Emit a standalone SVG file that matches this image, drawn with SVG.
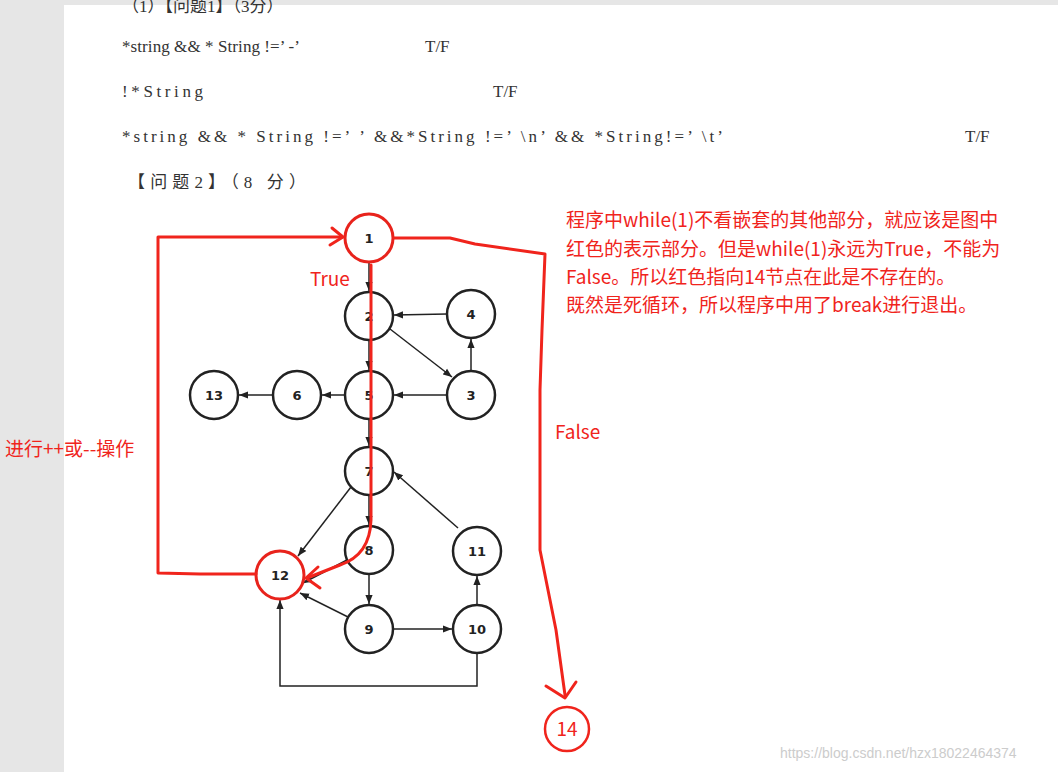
<svg xmlns="http://www.w3.org/2000/svg" width="1058" height="772" viewBox="0 0 1058 772">
<defs>
<marker id="ah" viewBox="0 0 10 10" refX="10" refY="5" markerWidth="6" markerHeight="6" orient="auto"><path d="M0,1 L10,5 L0,9 z" fill="#222"/></marker>
</defs>
<style>
.doc{font-family:"Liberation Serif","Noto Sans CJK SC",serif;font-size:17px;fill:#333}
.n circle{fill:#fff;stroke:#222;stroke-width:2.5}
.n text{font-family:"DejaVu Sans",sans-serif;font-weight:bold;font-size:13px;text-anchor:middle;fill:#222}
.r circle{stroke:#e8231c;stroke-width:3}
.e{stroke:#222;stroke-width:1.5;fill:none;marker-end:url(#ah)}
.red{stroke:#f0241c;stroke-width:3;fill:none;stroke-linecap:round;stroke-linejoin:round}
.rt{font-family:"Noto Sans CJK SC","Noto Sans",sans-serif;font-size:19px;fill:#f0241c}
</style>
<rect width="1058" height="772" fill="#fff"/>
<rect width="64" height="772" fill="#e6e6e6"/>
<rect width="1058" height="5" fill="#e6e6e6"/>
<text class="doc" x="122" y="12">（1）【问题1】（3分）</text>
<text class="doc" x="122" y="52" textLength="178" lengthAdjust="spacing">*string &amp;&amp; * String !=’ -’</text><text class="doc" x="425" y="52">T/F</text>
<text class="doc" x="122" y="97" textLength="81" lengthAdjust="spacing">!*String</text><text class="doc" x="493" y="97">T/F</text>
<text class="doc" x="122" y="142" textLength="601" lengthAdjust="spacing">*string &amp;&amp; * String !=’  ’ &amp;&amp;*String !=’ \n’ &amp;&amp; *String!=’ \t’</text><text class="doc" x="965" y="142">T/F</text>
<text class="doc" x="128" y="188" textLength="178" lengthAdjust="spacing">【问题2】（8 分）</text>
<g id="connectors">
<line class="e" x1="369" y1="262" x2="369" y2="291"/>
<line class="e" x1="447" y1="314" x2="394" y2="315"/>
<line class="e" x1="390" y1="329" x2="452" y2="377"/>
<line class="e" x1="471" y1="371" x2="471" y2="339"/>
<line class="e" x1="447" y1="395" x2="394" y2="395"/>
<line class="e" x1="345" y1="395" x2="322" y2="395"/>
<line class="e" x1="273" y1="395" x2="239" y2="395"/>
<line class="e" x1="369" y1="340" x2="369" y2="370"/>
<line class="e" x1="369" y1="419" x2="369" y2="446"/>
<line class="e" x1="369" y1="495" x2="369" y2="525"/>
<line class="e" x1="351" y1="487" x2="298" y2="556"/>
<line class="e" x1="347" y1="560" x2="303" y2="583"/>
<line class="e" x1="369" y1="575" x2="369" y2="604"/>
<line class="e" x1="348" y1="617" x2="300" y2="593"/>
<line class="e" x1="394" y1="629" x2="452" y2="629"/>
<line class="e" x1="477" y1="605" x2="477" y2="576"/>
<line class="e" x1="458" y1="528" x2="394" y2="472"/>
<polyline class="e" points="477,653 477,686 280,686 280,600"/>
<line x1="158" y1="237" x2="158" y2="270" stroke="#555" stroke-width="2"/>
</g>
<g id="n1" class="n r"><circle cx="369" cy="238" r="24"/><text x="369" y="243">1</text></g>
<g id="n2" class="n"><circle cx="369" cy="316" r="24"/><text x="369" y="321">2</text></g>
<g id="n4" class="n"><circle cx="471" cy="314" r="24"/><text x="471" y="319">4</text></g>
<g id="n5" class="n"><circle cx="369" cy="395" r="24"/><text x="369" y="400">5</text></g>
<g id="n3" class="n"><circle cx="471" cy="395" r="24"/><text x="471" y="400">3</text></g>
<g id="n6" class="n"><circle cx="297" cy="395" r="24"/><text x="297" y="400">6</text></g>
<g id="n13" class="n"><circle cx="214" cy="395" r="24"/><text x="214" y="400">13</text></g>
<g id="n7" class="n"><circle cx="369" cy="471" r="24"/><text x="369" y="476">7</text></g>
<g id="n8" class="n"><circle cx="369" cy="550" r="24"/><text x="369" y="555">8</text></g>
<g id="n11" class="n"><circle cx="477" cy="551" r="24"/><text x="477" y="556">11</text></g>
<g id="n12" class="n r"><circle cx="280" cy="575" r="24"/><text x="280" y="580">12</text></g>
<g id="n9" class="n"><circle cx="369" cy="629" r="24"/><text x="369" y="634">9</text></g>
<g id="n10" class="n"><circle cx="477" cy="629" r="24"/><text x="477" y="634">10</text></g>
<g id="n14"><circle cx="567" cy="729" r="22" fill="#fff" stroke="#f0241c" stroke-width="2.5"/><text class="rt" x="567" y="736" text-anchor="middle">14</text></g>
<g id="red-connectors">
<polyline class="red" points="256,574 200,574 158,573 158,237 342,237"/>
<polyline class="red" points="332,228 343,237 330,245"/>
<path class="red" d="M371,265 L371,520 Q370,555 340,565 L307,578"/>
<polyline class="red" points="318,567 306,578 320,588"/>
<path class="red" d="M394,238 L450,238 L475,244 L545,254 L542,330 L540,390 L540,550 L556,630 L565,695"/>
<polyline class="red" points="546,686 565,698 576,682"/>
</g>
<text class="rt" x="310" y="286">True</text>
<text class="rt" x="555" y="439">False</text>
<text class="rt" x="5" y="456">进行++或--操作</text>
<text class="rt" x="566" y="227">程序中while(1)不看嵌套的其他部分，就应该是图中</text>
<text class="rt" x="566" y="256">红色的表示部分。但是while(1)永远为True，不能为</text>
<text class="rt" x="566" y="284">False。所以红色指向14节点在此是不存在的。</text>
<text class="rt" x="566" y="312">既然是死循环，所以程序中用了break进行退出。</text>
<text x="780" y="758" font-family="Liberation Sans,sans-serif" font-size="14" fill="#ccc">https://blog.csdn.net/hzx18022464374</text>
</svg>
